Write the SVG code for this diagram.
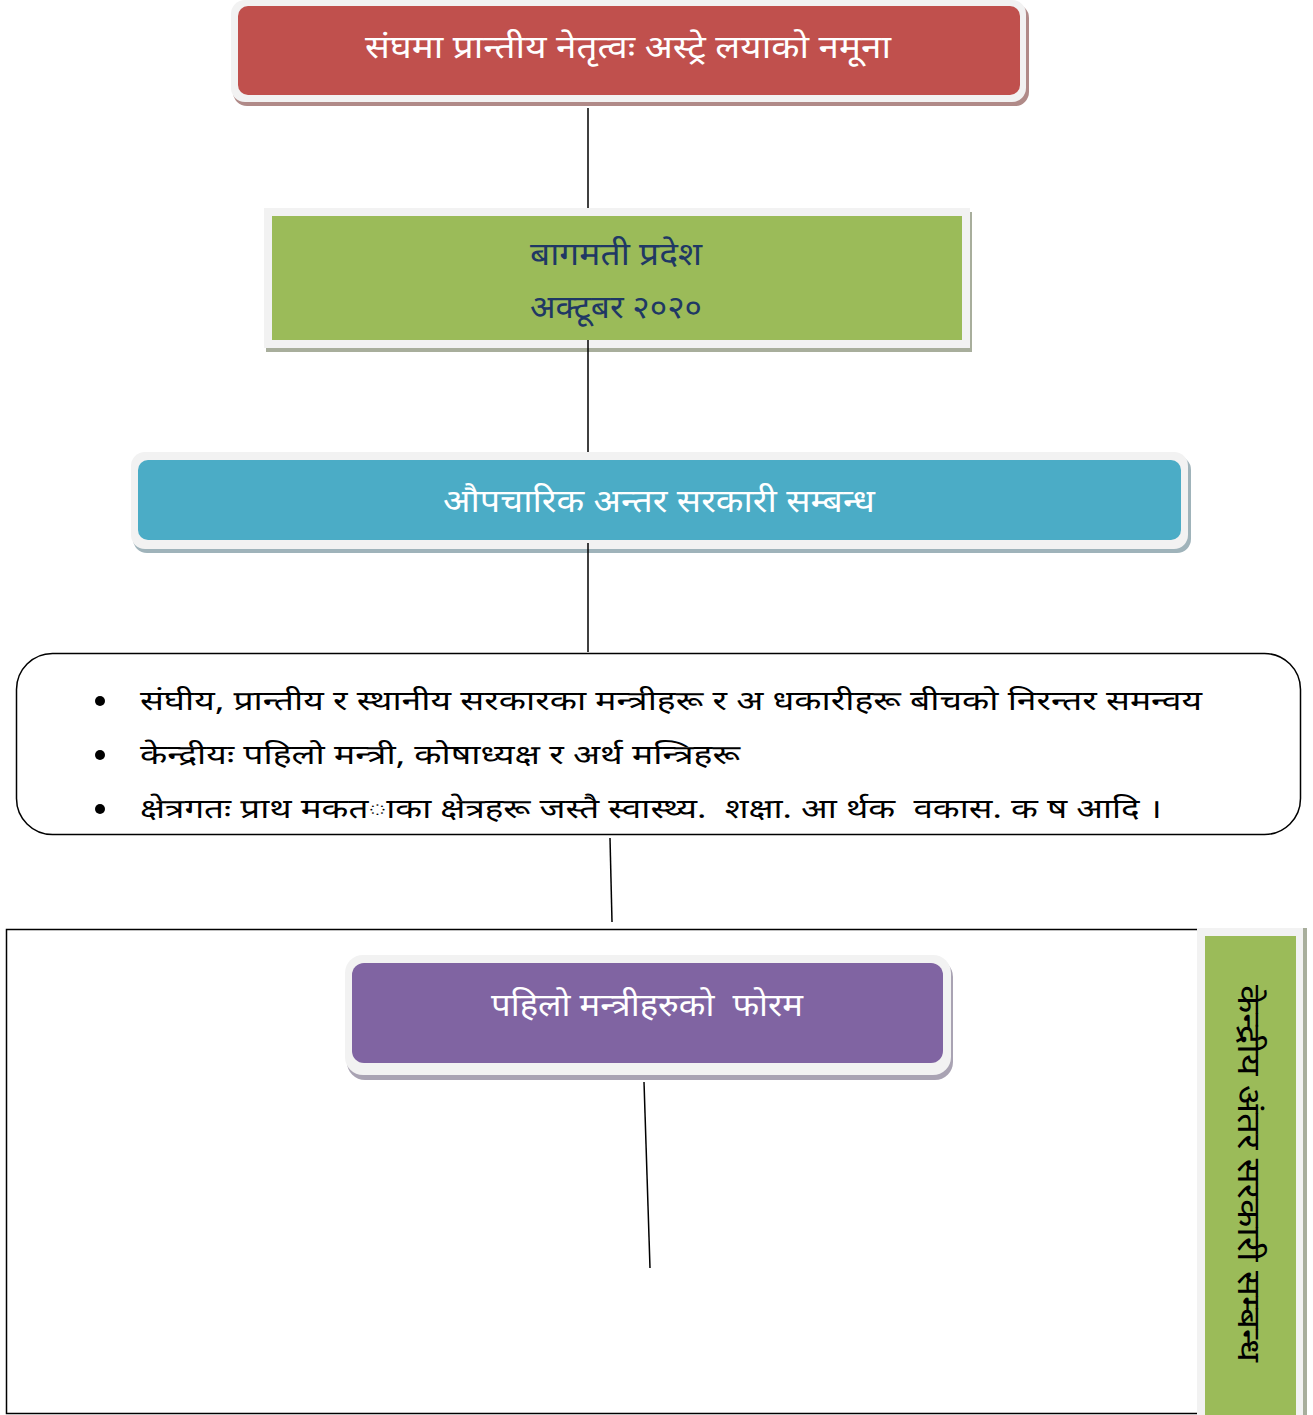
<svg xmlns="http://www.w3.org/2000/svg" width="1313" height="1415" viewBox="0 0 1313 1415">
<style>
.t{font-family:"Noto Sans Devanagari","Lohit Devanagari","Noto Sans","Liberation Sans",sans-serif;white-space:pre;}
.w{fill:#fff;font-size:32px;text-anchor:middle;}
.n{fill:#1F3864;font-size:32px;text-anchor:middle;}
.b{fill:#000;font-size:27px;}
.frame{fill:#f2f2f2;}
.ln{stroke:#000;stroke-width:1.5;fill:none;}
</style>
<rect width="1313" height="1415" fill="#fff"/>
<g id="container">
<polyline class="ln" points="1197,929.5 6.5,929.5 6.5,1413.5 1197,1413.5" stroke-width="2"/>
</g>
<g id="title">
<rect x="233" y="4" width="796" height="102" rx="14" fill="#b08a88"/>
<rect x="231" y="0" width="795" height="102" rx="14" class="frame"/>
<rect x="238" y="6" width="782" height="89" rx="10" fill="#C0504D"/>
<text class="t w" x="628" y="58" textLength="526" lengthAdjust="spacingAndGlyphs">संघमा प्रान्तीय नेतृत्वः अस्ट्रे लयाको नमूना</text>
</g>
<g id="bagmati">
<rect x="266" y="212" width="706" height="140" fill="#a8ae9c"/>
<rect x="264" y="208" width="706" height="140" class="frame"/>
<rect x="272" y="216" width="690" height="124" fill="#9BBB59"/>
<text class="t n" x="616" y="265" textLength="172" lengthAdjust="spacingAndGlyphs">बागमती प्रदेश</text>
<text class="t n" x="616" y="318" textLength="172" lengthAdjust="spacingAndGlyphs">अक्टूबर २०२०</text>
</g>
<g id="formal">
<rect x="133" y="456" width="1058" height="97" rx="14" fill="#9fb3ba"/>
<rect x="131" y="452" width="1057" height="97" rx="14" class="frame"/>
<rect x="138" y="460" width="1043" height="80" rx="10" fill="#4BACC6"/>
<text class="t w" x="659" y="512" textLength="432" lengthAdjust="spacingAndGlyphs">औपचारिक अन्तर सरकारी सम्बन्ध</text>
</g>
<g id="details">
<rect x="16.5" y="653.5" width="1284" height="181" rx="36" fill="#fff" stroke="#000" stroke-width="1.5"/>
<circle cx="100" cy="701" r="5"/>
<circle cx="100" cy="755" r="5"/>
<circle cx="100" cy="809" r="5"/>
<text class="t b" x="140" y="710" textLength="1062" lengthAdjust="spacingAndGlyphs">संघीय, प्रान्तीय र स्थानीय सरकारका मन्त्रीहरू र अ धकारीहरू बीचको निरन्तर समन्वय</text>
<text class="t b" x="140" y="764" textLength="600" lengthAdjust="spacingAndGlyphs">केन्द्रीयः पहिलो मन्त्री, कोषाध्यक्ष र अर्थ मन्त्रिहरू</text>
<text class="t b" x="140" y="818" textLength="1022" lengthAdjust="spacingAndGlyphs">क्षेत्रगतः प्राथ मकत◌ाका क्षेत्रहरू जस्तै स्वास्थ्य.  शक्षा. आ र्थक  वकास. क ष आदि ।</text>
</g>
<g id="forum">
<rect x="347" y="959" width="606" height="121" rx="18" fill="#a9a3b3"/>
<rect x="345" y="955" width="606" height="120" rx="18" class="frame"/>
<rect x="352" y="963" width="591" height="100" rx="12" fill="#8064A2"/>
<text class="t w" x="647" y="1016" textLength="312" lengthAdjust="spacingAndGlyphs">पहिलो मन्त्रीहरुको  फोरम</text>
</g>
<g id="central">
<rect x="1199" y="928" width="108" height="487" fill="#a8ae9c"/>
<rect x="1197" y="928" width="106" height="487" class="frame"/>
<rect x="1205" y="936" width="91" height="479" fill="#9BBB59"/>
<text class="t" x="1238" y="985" font-size="32" fill="#000" textLength="377" lengthAdjust="spacingAndGlyphs" transform="rotate(90 1238 985)">केन्द्रीय अंतर सरकारी सम्बन्ध</text>
</g>
<g id="connectors">
<line class="ln" x1="588" y1="108" x2="588" y2="208"/>
<line class="ln" x1="588" y1="340" x2="588" y2="452"/>
<line class="ln" x1="588" y1="543" x2="588" y2="652"/>
<line class="ln" x1="610" y1="838" x2="612" y2="922"/>
<line class="ln" x1="644" y1="1082" x2="650" y2="1268"/>
</g>
</svg>
